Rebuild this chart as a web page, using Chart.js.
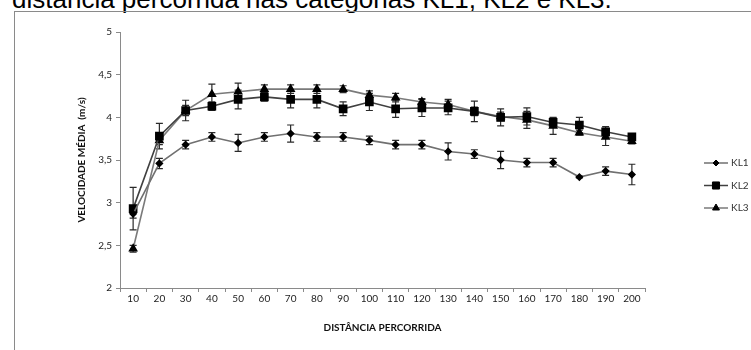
<!DOCTYPE html>
<html>
<head>
<meta charset="utf-8">
<script src="https://cdn.jsdelivr.net/npm/chart.js@4"></script>
<style>
  html, body { margin: 0; padding: 0; background: #fff; }
  #wrap { position: relative; width: 751px; height: 350px; overflow: hidden; }
  #caption { position: absolute; left: 12px; top: -14px; font: 26px "Liberation Sans", Arial, sans-serif; line-height: 26px; color: #000; white-space: nowrap; }
  #frame { position: absolute; left: 14px; top: 11px; width: 800px; height: 400px; border: 1px solid #8a8a8a; }
  #chartBox { position: absolute; left: 0; top: 0; width: 751px; height: 350px; }
</style>
</head>
<body>
<div id="wrap">
  <div id="caption">distância percorrida nas categorias KL1, KL2 e KL3.</div>
  <div id="frame"></div>
  <div id="chartBox"><canvas id="speedChart" width="751" height="350"></canvas></div>
</div>
<script>
// data
const distances = ['10', '20', '30', '40', '50', '60', '70', '80', '90', '100',
                   '110', '120', '130', '140', '150', '160', '170', '180', '190', '200'];

const kl1 = [2.87, 3.46, 3.68, 3.77, 3.70, 3.77, 3.81, 3.77, 3.77, 3.73,
             3.68, 3.68, 3.60, 3.57, 3.50, 3.47, 3.47, 3.30, 3.37, 3.33];
const kl1Err = [0.05, 0.06, 0.05, 0.05, 0.10, 0.05, 0.10, 0.05, 0.05, 0.05,
                0.05, 0.05, 0.10, 0.05, 0.10, 0.05, 0.05, 0.01, 0.05, 0.12];

const kl2 = [2.93, 3.78, 4.08, 4.13, 4.21, 4.24, 4.21, 4.21, 4.10, 4.18,
             4.10, 4.11, 4.11, 4.07, 4.00, 4.01, 3.94, 3.91, 3.83, 3.77];
const kl2Err = [0.25, 0.15, 0.12, 0.05, 0.11, 0.05, 0.10, 0.10, 0.08, 0.10,
                0.10, 0.10, 0.08, 0.12, 0.10, 0.10, 0.05, 0.09, 0.06, 0.04];

const kl3 = [2.46, 3.73, 4.08, 4.27, 4.30, 4.33, 4.33, 4.33, 4.33, 4.26,
             4.23, 4.18, 4.15, 4.07, 4.01, 3.97, 3.90, 3.82, 3.77, 3.72];
const kl3Err = [0.04, 0.05, 0.06, 0.12, 0.10, 0.05, 0.05, 0.05, 0.04, 0.05,
                0.05, 0.04, 0.06, 0.05, 0.05, 0.10, 0.10, 0.03, 0.10, 0.03];

const yTicks = [2, 2.5, 3, 3.5, 4, 4.5, 5];

const FONT = 'Lato, "Open Sans", sans-serif';
const AXIS = '#8a8a8a';

// error bars, drawn under the lines and markers
const errorBars = {
  id: 'errorBars',
  beforeDatasetsDraw(chart) {
    const ctx = chart.ctx;
    const y = chart.scales.y;
    chart.data.datasets.forEach((ds, i) => {
      const meta = chart.getDatasetMeta(i);
      ctx.save();
      ctx.strokeStyle = '#2a2a2a';
      ctx.lineWidth = 1.2;
      meta.data.forEach((pt, j) => {
        const v = ds.data[j], e = ds.errors[j];
        const top = y.getPixelForValue(v + e);
        const bot = y.getPixelForValue(v - e);
        ctx.beginPath();
        ctx.moveTo(pt.x, top); ctx.lineTo(pt.x, bot);
        ctx.moveTo(pt.x - 3.5, top); ctx.lineTo(pt.x + 3.5, top);
        ctx.moveTo(pt.x - 3.5, bot); ctx.lineTo(pt.x + 3.5, bot);
        ctx.stroke();
      });
      ctx.restore();
    });
  }
};

// excel style legend on the right
const sideLegend = {
  id: 'sideLegend',
  afterDraw(chart) {
    const ctx = chart.ctx;
    chart.data.datasets.forEach((ds, i) => {
      const cy = 163 + i * 22.5;
      ctx.save();
      ctx.strokeStyle = ds.borderColor;
      ctx.lineWidth = 1.5;
      ctx.beginPath();
      ctx.moveTo(704, cy); ctx.lineTo(728, cy);
      ctx.stroke();
      ctx.fillStyle = '#000';
      ctx.strokeStyle = '#000';
      ctx.lineWidth = 1;
      Chart.helpers.drawPoint(ctx, {pointStyle: ds.pointStyle, radius: ds.pointRadius, rotation: 0, borderWidth: 1}, 716, cy);
      ctx.fillStyle = '#333';
      ctx.font = '10px ' + FONT;
      ctx.textBaseline = 'middle';
      ctx.fillText(ds.label, 731, cy);
      ctx.restore();
    });
  }
};

var ctx = document.getElementById('speedChart').getContext('2d');
var speedChart = new Chart(ctx, {
  type: 'line',
  data: {
    labels: distances,
    datasets: [{
      label: 'KL1',
      data: kl1,
      errors: kl1Err,
      borderColor: '#707070',
      borderWidth: 1.6,
      pointStyle: 'rectRot',
      pointRadius: 3,
      pointBackgroundColor: '#000',
      pointBorderColor: '#000',
      tension: 0
    }, {
      label: 'KL2',
      data: kl2,
      errors: kl2Err,
      borderColor: '#404040',
      borderWidth: 1.6,
      pointStyle: 'rect',
      pointRadius: 5,
      pointBackgroundColor: '#000',
      pointBorderColor: '#000',
      tension: 0
    }, {
      label: 'KL3',
      data: kl3,
      errors: kl3Err,
      borderColor: '#7a7a7a',
      borderWidth: 1.6,
      pointStyle: 'triangle',
      pointRadius: 4,
      pointBackgroundColor: '#000',
      pointBorderColor: '#000',
      tension: 0
    }]
  },
  options: {
    responsive: false,
    animation: false,
    layout: { padding: { top: 32, right: 106, left: 0, bottom: 0 } },
    plugins: {
      legend: { display: false },
      tooltip: { enabled: false }
    },
    scales: {
      x: {
        offset: true,
        grid: { offset: true, drawOnChartArea: false, drawTicks: true, tickLength: 4, color: AXIS },
        border: { color: AXIS },
        ticks: { font: { family: FONT, size: 10 }, color: '#222', padding: 1, maxRotation: 0, autoSkip: false },
        title: {
          display: true,
          text: 'DISTÂNCIA PERCORRIDA',
          color: '#111',
          font: { family: FONT, size: 10, weight: 'bold' },
          padding: { top: 0, bottom: 16 }
        },
        afterFit: s => { s.height = 62; }
      },
      y: {
        min: 2,
        max: 5,
        afterBuildTicks: s => { s.ticks = yTicks.map(v => ({ value: v })); },
        grid: { drawOnChartArea: false, drawTicks: true, tickLength: 4, color: AXIS },
        border: { color: AXIS },
        ticks: {
          font: { family: FONT, size: 10 },
          color: '#222',
          padding: 4,
          callback: v => String(v).replace('.', ',')
        },
        title: {
          display: true,
          text: 'VELOCIDADE MÉDIA  (m/s)',
          color: '#111',
          font: { family: FONT, size: 10, weight: 'bold' },
          padding: { top: 76, bottom: 0 }
        },
        afterFit: s => { s.width = 120; }
      }
    }
  },
  plugins: [errorBars, sideLegend]
});
</script>
</body>
</html>
